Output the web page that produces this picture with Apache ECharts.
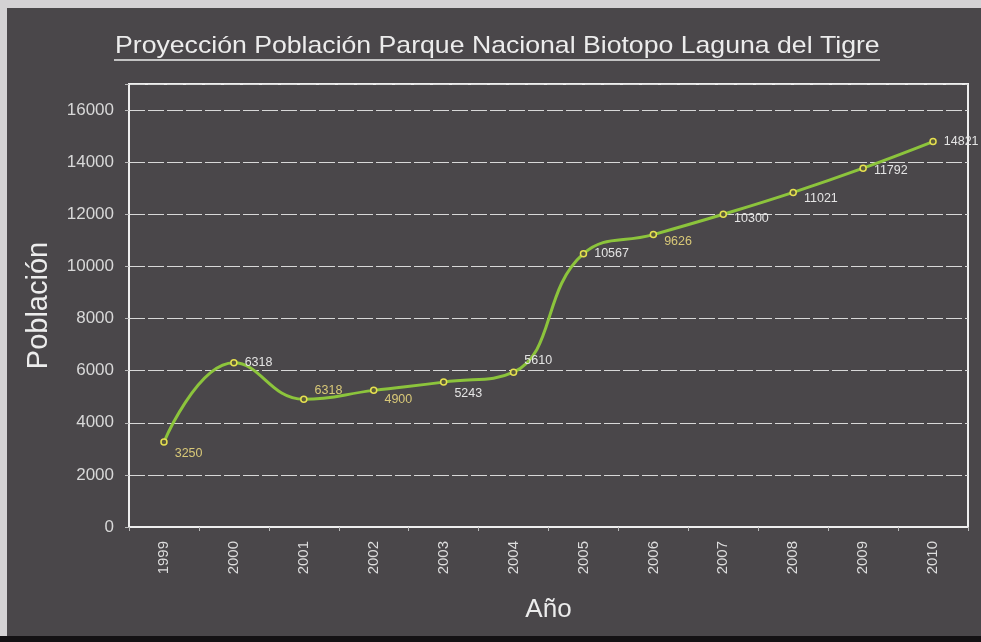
<!DOCTYPE html>
<html>
<head>
<meta charset="utf-8">
<script src="https://cdn.jsdelivr.net/npm/echarts@6/dist/echarts.min.js"></script>
<style>
  html, body { margin: 0; padding: 0; background: #4a474a; }
  #main { width: 981px; height: 642px; }
</style>
</head>
<body>
<div id="main"></div>
<script>
var years = ['1999', '2000', '2001', '2002', '2003', '2004', '2005', '2006', '2007', '2008', '2009', '2010'];
var poblacion = [3260, 6300, 4900, 5243, 5560, 5940, 10490, 11220, 12000, 12840, 13770, 14790];
var etiquetas = ['3250', '6318', '6318', '4900', '5243', '5610', '10567', '9626', '10300', '11021', '11792', '14821'];
var yTicks = [0, 2000, 4000, 6000, 8000, 10000, 12000, 14000, 16000];
var titulo = 'Proyección Población Parque Nacional Biotopo Laguna del Tigre';

// desplazamiento de cada etiqueta respecto a su punto
var offsets = [[0, 11], [0, 0], [0, -9], [0, 9], [0, 11], [0, -12], [0, 0], [0, 7], [0, 4], [0, 6], [0, 2], [0, 0]];
var amarillas = [0, 2, 3, 7];

var myChart = echarts.init(document.getElementById('main'));

var puntos = poblacion.map(function (v, i) {
    return {
        value: v,
        label: {
            formatter: etiquetas[i],
            offset: offsets[i],
            color: amarillas.indexOf(i) >= 0 ? '#d8c878' : '#e4e4e4'
        }
    };
});

var option = {
    backgroundColor: '#4a474a',
    animation: false,
    graphic: [
        { type: 'rect', shape: { x: 0, y: 0, width: 981, height: 8 }, style: { fill: '#d4d2d4' } },
        { type: 'rect', shape: { x: 0, y: 0, width: 7, height: 642 }, style: { fill: '#d4d2d4' } },
        { type: 'rect', shape: { x: 0, y: 636, width: 981, height: 6 }, style: { fill: '#141214' } },
        {
            type: 'text',
            x: 115,
            y: 34,
            scaleX: 1.11,
            style: {
                text: titulo,
                fill: '#ececec',
                font: 'normal 24px "Liberation Sans", Arial'
            }
        },
        { type: 'line', shape: { x1: 114, y1: 60, x2: 880, y2: 60 }, style: { stroke: '#ececec', lineWidth: 1.5 } }
    ],
    grid: {
        left: 129,
        right: 13,
        top: 84,
        bottom: 115,
        show: true,
        borderColor: '#eeeeee',
        borderWidth: 2
    },
    xAxis: {
        type: 'category',
        data: years,
        name: 'Año',
        nameLocation: 'middle',
        nameGap: 70,
        nameTextStyle: { color: '#ececec', fontSize: 26, fontFamily: 'Liberation Sans, Arial' },
        axisLine: { lineStyle: { color: '#eeeeee', width: 2 } },
        axisTick: { show: true, length: 4, lineStyle: { color: '#bbbbbb' } },
        axisLabel: {
            rotate: 90,
            color: '#dddddd',
            fontSize: 15,
            margin: 14,
            fontFamily: 'Liberation Sans, Arial'
        }
    },
    yAxis: {
        type: 'value',
        min: 0,
        max: 17000,
        interval: 2000,
        name: 'Población',
        nameLocation: 'middle',
        nameGap: 76,
        nameTextStyle: { color: '#ececec', fontSize: 29, fontFamily: 'Liberation Sans, Arial' },
        axisLine: { show: true, lineStyle: { color: '#eeeeee', width: 2 } },
        axisTick: { show: true, length: 4, lineStyle: { color: '#bbbbbb' } },
        axisLabel: {
            color: '#d8d8d8',
            fontSize: 17,
            margin: 15,
            fontFamily: 'Liberation Sans, Arial',
            formatter: function (v) { return yTicks.indexOf(v) >= 0 ? String(v) : ''; }
        },
        splitLine: {
            show: true,
            lineStyle: { color: '#d8d8d8', type: [16, 3], width: 1 }
        }
    },
    series: [{
        name: 'Población',
        type: 'line',
        data: puntos,
        smooth: 0.45,
        symbol: 'circle',
        symbolSize: 6,
        lineStyle: { color: '#8cc43c', width: 3 },
        itemStyle: { color: '#5a5a3a', borderColor: '#e6e050', borderWidth: 1.5 },
        label: {
            show: true,
            position: 'right',
            distance: 7,
            fontSize: 12.5,
            fontFamily: 'Liberation Sans, Arial'
        }
    }]
};

myChart.setOption(option);
</script>
</body>
</html>
